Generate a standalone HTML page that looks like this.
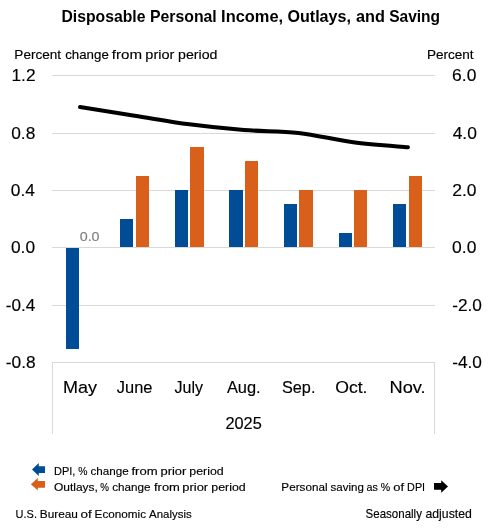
<!DOCTYPE html>
<html><head><meta charset="utf-8"><style>
html,body{margin:0;padding:0;background:#fff;width:495px;height:528px;overflow:hidden}
svg{display:block;font-family:"Liberation Sans", sans-serif;will-change:transform}
</style></head><body>
<svg width="495" height="528" viewBox="0 0 495 528">
<rect width="495" height="528" fill="#fff"/>
<rect x="52" y="75" width="383" height="1" fill="#D9D9D9"/>
<rect x="52" y="133" width="383" height="1" fill="#D9D9D9"/>
<rect x="52" y="190" width="383" height="1" fill="#D9D9D9"/>
<rect x="52" y="247" width="383" height="1" fill="#D9D9D9"/>
<rect x="52" y="305" width="383" height="1" fill="#D9D9D9"/>
<rect x="52" y="362" width="383" height="1" fill="#D9D9D9"/>
<rect x="52" y="362" width="1" height="72" fill="#D9D9D9"/>
<rect x="434" y="362" width="1" height="72" fill="#D9D9D9"/>
<rect x="66" y="248" width="13" height="101" fill="#004C97"/>
<rect x="120" y="219" width="13" height="28" fill="#004C97"/>
<rect x="136" y="176" width="13" height="71" fill="#D9601A"/>
<rect x="175" y="190" width="13" height="57" fill="#004C97"/>
<rect x="190" y="147" width="14" height="100" fill="#D9601A"/>
<rect x="229" y="190" width="14" height="57" fill="#004C97"/>
<rect x="245" y="161" width="13" height="86" fill="#D9601A"/>
<rect x="284" y="204" width="13" height="43" fill="#004C97"/>
<rect x="299" y="190" width="14" height="57" fill="#D9601A"/>
<rect x="339" y="233" width="13" height="14" fill="#004C97"/>
<rect x="354" y="190" width="13" height="57" fill="#D9601A"/>
<rect x="393" y="204" width="13" height="43" fill="#004C97"/>
<rect x="409" y="176" width="13" height="71" fill="#D9601A"/>
<path d="M80.00,107.07 C89.11,108.50 116.43,112.81 134.65,115.68 C152.87,118.55 171.08,121.90 189.30,124.29 C207.52,126.68 225.73,128.59 243.95,130.03 C262.17,131.47 280.38,130.85 298.60,132.90 C316.82,134.95 335.03,139.92 353.25,142.31 C371.47,144.71 398.79,146.43 407.90,147.25" fill="none" stroke="#000" stroke-width="4" stroke-linecap="round" stroke-linejoin="round"/>
<path d="M32,469.5 L38.8,463 L38.8,466.3 L45,466.3 L45,473 L38.8,473 L38.8,476 Z" fill="#004C97"/>
<path d="M30.9,484.3 L37.8,478.0 L37.8,480.9 L45,480.9 L45,487.7 L37.8,487.7 L37.8,490.6 Z" fill="#D9601A"/>
<path d="M448,486.5 L441.2,480.2 L441.2,483.1 L434,483.1 L434,489.7 L441.2,489.7 L441.2,492.8 Z" fill="#000"/>
<text x="61.52" y="21.70" font-size="16.96" font-weight="bold" fill="#000000" stroke="#000000" stroke-width="0.00" textLength="83.90" lengthAdjust="spacingAndGlyphs">Disposable</text>
<text x="149.90" y="21.70" font-size="16.96" font-weight="bold" fill="#000000" stroke="#000000" stroke-width="0.00" textLength="66.87" lengthAdjust="spacingAndGlyphs">Personal</text>
<text x="221.09" y="21.70" font-size="16.96" font-weight="bold" fill="#000000" stroke="#000000" stroke-width="0.00" textLength="61.99" lengthAdjust="spacingAndGlyphs">Income,</text>
<text x="287.45" y="21.70" font-size="16.96" font-weight="bold" fill="#000000" stroke="#000000" stroke-width="0.00" textLength="63.47" lengthAdjust="spacingAndGlyphs">Outlays,</text>
<text x="355.98" y="21.70" font-size="16.96" font-weight="bold" fill="#000000" stroke="#000000" stroke-width="0.00" textLength="28.91" lengthAdjust="spacingAndGlyphs">and</text>
<text x="389.13" y="21.70" font-size="16.96" font-weight="bold" fill="#000000" stroke="#000000" stroke-width="0.00" textLength="51.00" lengthAdjust="spacingAndGlyphs">Saving</text>
<text x="14.35" y="58.80" font-size="12.75" font-weight="normal" fill="#000000" stroke="#000000" stroke-width="0.15" textLength="46.75" lengthAdjust="spacingAndGlyphs">Percent</text>
<text x="65.23" y="58.80" font-size="12.75" font-weight="normal" fill="#000000" stroke="#000000" stroke-width="0.15" textLength="43.56" lengthAdjust="spacingAndGlyphs">change</text>
<text x="111.87" y="58.80" font-size="12.75" font-weight="normal" fill="#000000" stroke="#000000" stroke-width="0.15" textLength="30.17" lengthAdjust="spacingAndGlyphs">from</text>
<text x="145.37" y="58.80" font-size="12.75" font-weight="normal" fill="#000000" stroke="#000000" stroke-width="0.15" textLength="28.97" lengthAdjust="spacingAndGlyphs">prior</text>
<text x="178.08" y="58.80" font-size="12.75" font-weight="normal" fill="#000000" stroke="#000000" stroke-width="0.15" textLength="39.38" lengthAdjust="spacingAndGlyphs">period</text>
<text x="426.98" y="58.90" font-size="12.46" font-weight="normal" fill="#000000" stroke="#000000" stroke-width="0.15" textLength="46.65" lengthAdjust="spacingAndGlyphs">Percent</text>
<text x="11.46" y="81.00" font-size="16.96" font-weight="normal" fill="#000000" stroke="#000000" stroke-width="0.15" textLength="24.07" lengthAdjust="spacingAndGlyphs">1.2</text>
<text x="11.20" y="139.00" font-size="16.96" font-weight="normal" fill="#000000" stroke="#000000" stroke-width="0.15" textLength="24.07" lengthAdjust="spacingAndGlyphs">0.8</text>
<text x="10.83" y="196.00" font-size="16.96" font-weight="normal" fill="#000000" stroke="#000000" stroke-width="0.15" textLength="24.07" lengthAdjust="spacingAndGlyphs">0.4</text>
<text x="10.99" y="253.00" font-size="16.96" font-weight="normal" fill="#000000" stroke="#000000" stroke-width="0.15" textLength="24.07" lengthAdjust="spacingAndGlyphs">0.0</text>
<text x="5.77" y="311.00" font-size="16.96" font-weight="normal" fill="#000000" stroke="#000000" stroke-width="0.15" textLength="29.47" lengthAdjust="spacingAndGlyphs">-0.4</text>
<text x="5.75" y="368.00" font-size="16.96" font-weight="normal" fill="#000000" stroke="#000000" stroke-width="0.15" textLength="29.87" lengthAdjust="spacingAndGlyphs">-0.8</text>
<text x="452.11" y="80.90" font-size="16.96" font-weight="normal" fill="#000000" stroke="#000000" stroke-width="0.15" textLength="24.26" lengthAdjust="spacingAndGlyphs">6.0</text>
<text x="452.67" y="138.90" font-size="16.96" font-weight="normal" fill="#000000" stroke="#000000" stroke-width="0.15" textLength="24.26" lengthAdjust="spacingAndGlyphs">4.0</text>
<text x="452.19" y="195.90" font-size="16.96" font-weight="normal" fill="#000000" stroke="#000000" stroke-width="0.15" textLength="24.26" lengthAdjust="spacingAndGlyphs">2.0</text>
<text x="452.12" y="252.90" font-size="16.96" font-weight="normal" fill="#000000" stroke="#000000" stroke-width="0.15" textLength="24.26" lengthAdjust="spacingAndGlyphs">0.0</text>
<text x="452.22" y="310.90" font-size="16.96" font-weight="normal" fill="#000000" stroke="#000000" stroke-width="0.15" textLength="29.72" lengthAdjust="spacingAndGlyphs">-2.0</text>
<text x="452.22" y="367.90" font-size="16.96" font-weight="normal" fill="#000000" stroke="#000000" stroke-width="0.15" textLength="29.72" lengthAdjust="spacingAndGlyphs">-4.0</text>
<text x="63.04" y="393.00" font-size="16.96" font-weight="normal" fill="#000000" stroke="#000000" stroke-width="0.15" textLength="33.99" lengthAdjust="spacingAndGlyphs">May</text>
<text x="116.80" y="393.00" font-size="16.96" font-weight="normal" fill="#000000" stroke="#000000" stroke-width="0.15" textLength="35.60" lengthAdjust="spacingAndGlyphs">June</text>
<text x="174.55" y="393.00" font-size="16.96" font-weight="normal" fill="#000000" stroke="#000000" stroke-width="0.15" textLength="28.54" lengthAdjust="spacingAndGlyphs">July</text>
<text x="226.89" y="393.00" font-size="16.96" font-weight="normal" fill="#000000" stroke="#000000" stroke-width="0.15" textLength="33.78" lengthAdjust="spacingAndGlyphs">Aug.</text>
<text x="282.00" y="393.00" font-size="16.96" font-weight="normal" fill="#000000" stroke="#000000" stroke-width="0.15" textLength="33.42" lengthAdjust="spacingAndGlyphs">Sep.</text>
<text x="335.16" y="393.00" font-size="16.96" font-weight="normal" fill="#000000" stroke="#000000" stroke-width="0.15" textLength="32.38" lengthAdjust="spacingAndGlyphs">Oct.</text>
<text x="389.49" y="393.00" font-size="16.96" font-weight="normal" fill="#000000" stroke="#000000" stroke-width="0.15" textLength="36.18" lengthAdjust="spacingAndGlyphs">Nov.</text>
<text x="225.40" y="429.00" font-size="17.39" font-weight="normal" fill="#000000" stroke="#000000" stroke-width="0.15" textLength="36.34" lengthAdjust="spacingAndGlyphs">2025</text>
<text x="79.70" y="241.10" font-size="13.19" font-weight="normal" fill="#808080" stroke="#808080" stroke-width="0.15" textLength="19.86" lengthAdjust="spacingAndGlyphs">0.0</text>
<text x="54.02" y="474.90" font-size="11.30" font-weight="normal" fill="#000000" stroke="#000000" stroke-width="0.15" textLength="21.35" lengthAdjust="spacingAndGlyphs">DPI,</text>
<text x="78.29" y="474.90" font-size="11.30" font-weight="normal" fill="#000000" stroke="#000000" stroke-width="0.15" textLength="9.23" lengthAdjust="spacingAndGlyphs">%</text>
<text x="90.41" y="474.90" font-size="11.30" font-weight="normal" fill="#000000" stroke="#000000" stroke-width="0.15" textLength="38.25" lengthAdjust="spacingAndGlyphs">change</text>
<text x="131.46" y="474.90" font-size="11.30" font-weight="normal" fill="#000000" stroke="#000000" stroke-width="0.15" textLength="26.17" lengthAdjust="spacingAndGlyphs">from</text>
<text x="160.52" y="474.90" font-size="11.30" font-weight="normal" fill="#000000" stroke="#000000" stroke-width="0.15" textLength="25.86" lengthAdjust="spacingAndGlyphs">prior</text>
<text x="189.31" y="474.90" font-size="11.30" font-weight="normal" fill="#000000" stroke="#000000" stroke-width="0.15" textLength="34.34" lengthAdjust="spacingAndGlyphs">period</text>
<text x="53.96" y="490.60" font-size="10.87" font-weight="normal" fill="#000000" stroke="#000000" stroke-width="0.15" textLength="43.97" lengthAdjust="spacingAndGlyphs">Outlays,</text>
<text x="100.32" y="490.60" font-size="10.87" font-weight="normal" fill="#000000" stroke="#000000" stroke-width="0.15" textLength="8.71" lengthAdjust="spacingAndGlyphs">%</text>
<text x="112.19" y="490.60" font-size="10.87" font-weight="normal" fill="#000000" stroke="#000000" stroke-width="0.15" textLength="38.33" lengthAdjust="spacingAndGlyphs">change</text>
<text x="153.99" y="490.60" font-size="10.87" font-weight="normal" fill="#000000" stroke="#000000" stroke-width="0.15" textLength="25.91" lengthAdjust="spacingAndGlyphs">from</text>
<text x="182.24" y="490.60" font-size="10.87" font-weight="normal" fill="#000000" stroke="#000000" stroke-width="0.15" textLength="25.95" lengthAdjust="spacingAndGlyphs">prior</text>
<text x="211.33" y="490.60" font-size="10.87" font-weight="normal" fill="#000000" stroke="#000000" stroke-width="0.15" textLength="34.35" lengthAdjust="spacingAndGlyphs">period</text>
<text x="281.39" y="490.70" font-size="11.30" font-weight="normal" fill="#000000" stroke="#000000" stroke-width="0.15" textLength="46.11" lengthAdjust="spacingAndGlyphs">Personal</text>
<text x="330.50" y="490.70" font-size="11.30" font-weight="normal" fill="#000000" stroke="#000000" stroke-width="0.15" textLength="33.28" lengthAdjust="spacingAndGlyphs">saving</text>
<text x="366.60" y="490.70" font-size="11.30" font-weight="normal" fill="#000000" stroke="#000000" stroke-width="0.15" textLength="11.29" lengthAdjust="spacingAndGlyphs">as</text>
<text x="380.87" y="490.70" font-size="11.30" font-weight="normal" fill="#000000" stroke="#000000" stroke-width="0.15" textLength="9.39" lengthAdjust="spacingAndGlyphs">%</text>
<text x="393.25" y="490.70" font-size="11.30" font-weight="normal" fill="#000000" stroke="#000000" stroke-width="0.15" textLength="10.79" lengthAdjust="spacingAndGlyphs">of</text>
<text x="407.11" y="490.70" font-size="11.30" font-weight="normal" fill="#000000" stroke="#000000" stroke-width="0.15" textLength="18.02" lengthAdjust="spacingAndGlyphs">DPI</text>
<text x="15.58" y="517.80" font-size="11.30" font-weight="normal" fill="#000000" stroke="#000000" stroke-width="0.15" textLength="21.36" lengthAdjust="spacingAndGlyphs">U.S.</text>
<text x="39.81" y="517.80" font-size="11.30" font-weight="normal" fill="#000000" stroke="#000000" stroke-width="0.15" textLength="38.15" lengthAdjust="spacingAndGlyphs">Bureau</text>
<text x="80.50" y="517.80" font-size="11.30" font-weight="normal" fill="#000000" stroke="#000000" stroke-width="0.15" textLength="11.25" lengthAdjust="spacingAndGlyphs">of</text>
<text x="94.58" y="517.80" font-size="11.30" font-weight="normal" fill="#000000" stroke="#000000" stroke-width="0.15" textLength="51.44" lengthAdjust="spacingAndGlyphs">Economic</text>
<text x="149.07" y="517.80" font-size="11.30" font-weight="normal" fill="#000000" stroke="#000000" stroke-width="0.15" textLength="42.64" lengthAdjust="spacingAndGlyphs">Analysis</text>
<text x="365.62" y="518.20" font-size="12.46" font-weight="normal" fill="#000000" stroke="#000000" stroke-width="0.15" textLength="56.29" lengthAdjust="spacingAndGlyphs">Seasonally</text>
<text x="425.50" y="518.20" font-size="12.46" font-weight="normal" fill="#000000" stroke="#000000" stroke-width="0.15" textLength="46.32" lengthAdjust="spacingAndGlyphs">adjusted</text>
</svg></body></html>
